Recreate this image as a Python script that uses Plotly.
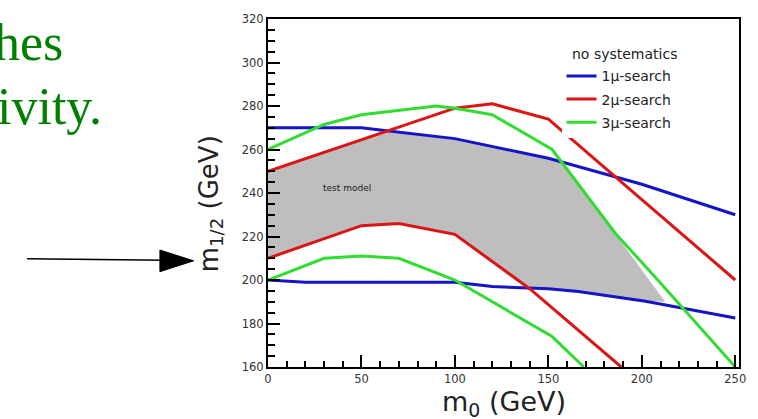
import plotly.graph_objects as go

# ---------------- data ----------------
blue_up_x = [0, 50, 60, 100, 150, 200, 250]
blue_up_y = [270, 270, 269, 265, 256, 244, 230]
blue_lo_x = [0, 20, 100, 120, 150, 166, 202, 250]
blue_lo_y = [200, 199, 199, 197, 196, 194.7, 190.2, 182.5]

red_up_x = [0, 100, 120, 150, 200, 250]
red_up_y = [250, 279, 281, 274, 237, 200]
red_lo_x = [0, 50, 70, 100, 140, 189]
red_lo_y = [210, 225, 226, 221, 196, 160]

green_up_x = [0, 30, 50, 70, 90, 100, 120, 152, 174, 186, 207, 250]
green_up_y = [260, 271.5, 276, 278, 280, 279, 276, 260, 235, 221.3, 201.5, 160]
green_lo_x = [0, 30, 50, 70, 100, 152, 169]
green_lo_y = [200, 210, 211, 210, 200, 174, 160]

model_x = [0, 30, 50, 70, 100, 137, 150, 166, 200, 212.5, 186, 156, 150, 100, 64, 30, 0]
model_y = [210, 219, 225, 226, 221, 197, 196, 194.7, 190.5, 190, 221, 255, 256, 265, 269, 259, 250]

series_names = ["1μ-search", "2μ-search", "3μ-search"]
series_colors = ["#1414c8", "#dc1414", "#32dc32"]
x_ticks = [0, 50, 100, 150, 200, 250]
y_ticks = [160, 180, 200, 220, 240, 260, 280, 300, 320]

# ---------------- geometry helpers (layout only) ----------------
L, R, T, B = 268, 743, 13, 367
W, H = 758, 419


def px(xp):
    return (xp - L) / (R - L)


def py(yp):
    return (B - yp) / (B - T)


SANS = "DejaVu Sans"

fig = go.Figure()

fig.add_trace(go.Scatter(x=model_x, y=model_y, fill="toself", fillcolor="#bebebe",
                         line=dict(width=0), mode="lines", showlegend=False,
                         hoverinfo="skip"))

curves = [
    (blue_up_x, blue_up_y, blue_lo_x, blue_lo_y),
    (red_up_x, red_up_y, red_lo_x, red_lo_y),
    (green_up_x, green_up_y, green_lo_x, green_lo_y),
]
for name, color, (ux, uy, lx, ly) in zip(series_names, series_colors, curves):
    fig.add_trace(go.Scatter(x=ux, y=uy, mode="lines", name=name, legendgroup=name,
                             line=dict(color=color, width=3)))
    fig.add_trace(go.Scatter(x=lx, y=ly, mode="lines", name=name, legendgroup=name,
                             showlegend=False, line=dict(color=color, width=3)))

axis_common = dict(showline=True, linewidth=2, linecolor="black", mirror=True,
                   ticks="inside", ticklen=12, tickwidth=1.5, tickcolor="black",
                   showgrid=False, zeroline=False,
                   tickfont=dict(family=SANS, size=11.5, color="#333"))

fig.update_xaxes(range=[0, 252], tickvals=x_ticks, ticktext=[str(v) for v in x_ticks],
                 minor=dict(ticks="inside", ticklen=6, dtick=10, tick0=0, tickcolor="black",
                            tickwidth=1.5),
                 **axis_common)
fig.update_yaxes(range=[160, 320], tickvals=y_ticks, ticktext=[str(v) for v in y_ticks],
                 minor=dict(ticks="inside", ticklen=7, dtick=5, tick0=160, tickcolor="black",
                            tickwidth=1.5),
                 **axis_common)

annotations = [
    dict(x=42, y=242.5, xref="x", yref="y", text="test model", showarrow=False,
         font=dict(family=SANS, size=9, color="#222")),
    dict(x=px(573), y=py(49), xref="paper", yref="paper", text="no systematics",
         showarrow=False, xanchor="left", yanchor="middle",
         font=dict(family=SANS, size=14, color="#222")),
    dict(x=px(506), y=py(404), xref="paper", yref="paper", text="m<sub>0</sub> (GeV)",
         showarrow=False, xanchor="center", yanchor="middle",
         font=dict(family=SANS, size=27, color="#222")),
    dict(x=px(210), y=py(201), xref="paper", yref="paper", text="m<sub>1/2</sub> (GeV)",
         showarrow=False, textangle=-90, xanchor="center", yanchor="middle",
         font=dict(family=SANS, size=26, color="#222")),
    dict(x=px(63), y=py(36.5), xref="paper", yref="paper", text="hes", showarrow=False,
         xanchor="right", yanchor="middle",
         font=dict(family="Liberation Serif, Times New Roman", size=52, color="#008000")),
    dict(x=px(103), y=py(101.5), xref="paper", yref="paper", text="ivity.", showarrow=False,
         xanchor="right", yanchor="middle",
         font=dict(family="Liberation Serif, Times New Roman", size=52, color="#008000")),
]

shapes = [
    dict(type="line", xref="paper", yref="paper", x0=px(25), y0=py(257), x1=px(165), y1=py(258.5),
         line=dict(color="black", width=1.5)),
    dict(type="path", xref="paper", yref="paper",
         path=f"M {px(159)} {py(248)} L {px(159)} {py(270)} L {px(193)} {py(259)} Z",
         fillcolor="black", line=dict(color="black", width=1)),
]

fig.update_layout(
    width=W, height=H,
    margin=dict(l=L, r=W - R, t=T, b=H - B),
    paper_bgcolor="white", plot_bgcolor="white",
    showlegend=True,
    legend=dict(x=px(564), y=py(55), xanchor="left", yanchor="top", bgcolor="white",
                font=dict(family=SANS, size=14, color="#222"),
                tracegroupgap=2, itemwidth=30),
    annotations=annotations,
    shapes=shapes,
)

fig.write_html("out.html", config={"displayModeBar": False},
               post_script="document.body.style.margin='0px';")
